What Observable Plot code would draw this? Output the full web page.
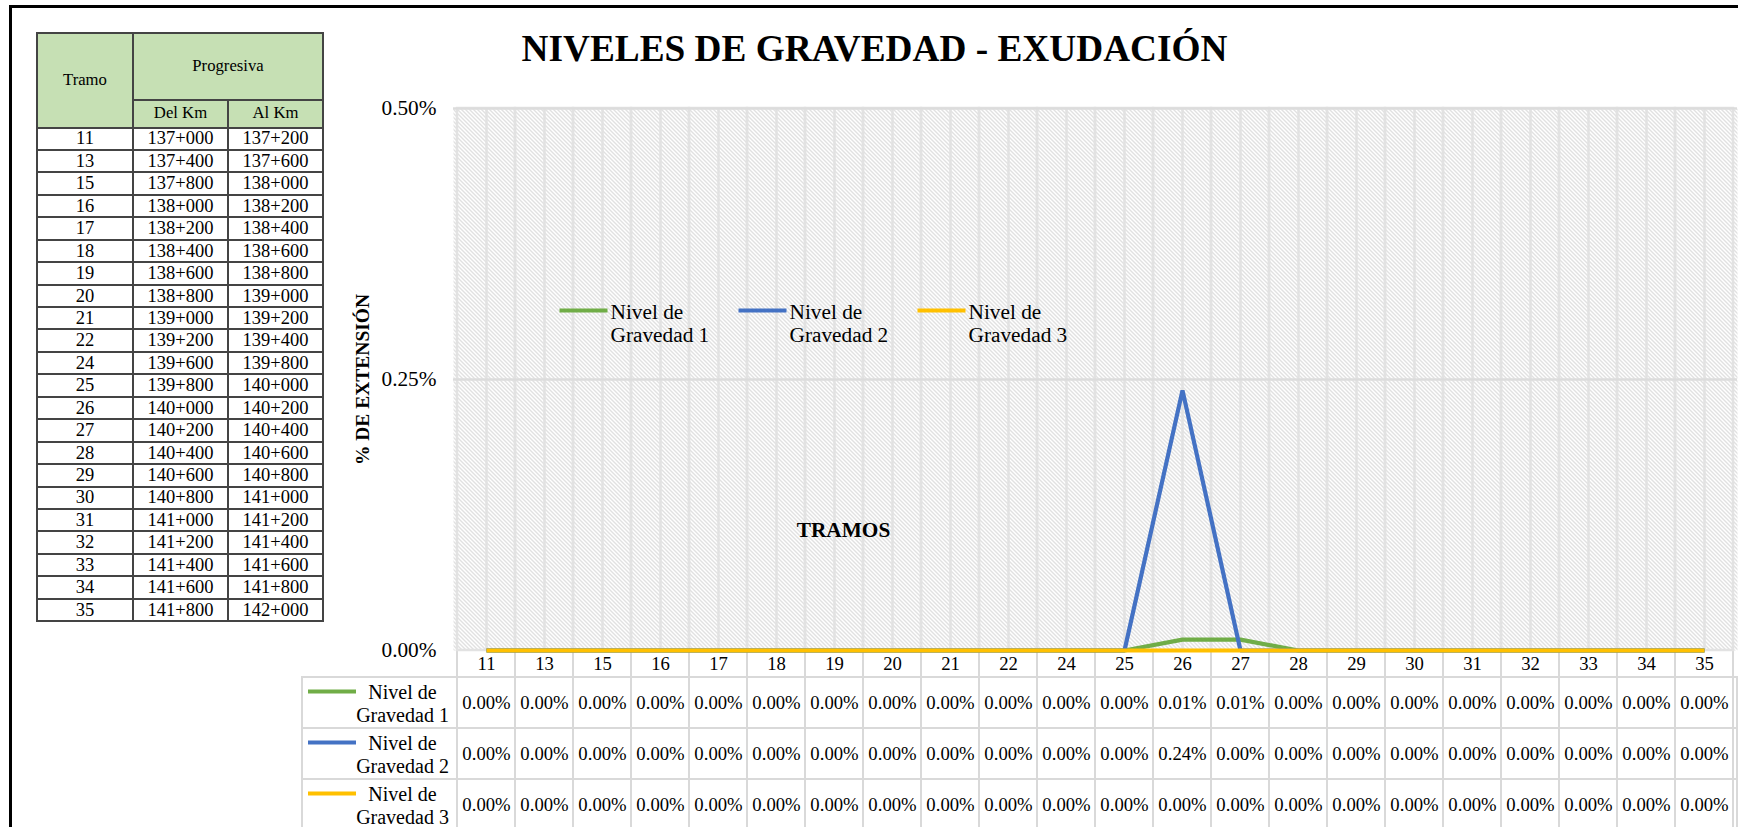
<!DOCTYPE html>
<html>
<head>
<meta charset="utf-8">
<script src="https://cdn.jsdelivr.net/npm/d3@7"></script>
<script src="https://cdn.jsdelivr.net/npm/@observablehq/plot@0.6"></script>
<style>
html,body{margin:0;padding:0;overflow:hidden;background:#fff;}
#root{position:relative;width:1738px;height:827px;overflow:hidden;background:#fff;font-family:"Liberation Serif","Times New Roman",serif;}
#root svg{position:absolute;left:0;background:transparent;max-width:none;overflow:visible;font-family:"Liberation Serif","Times New Roman",serif !important;}
#root svg text, #root svg tspan{font-family:"Liberation Serif","Times New Roman",serif !important;}
#frameBorder{position:absolute;left:9px;top:5px;width:1800px;height:900px;border-left:3px solid #000;border-top:3px solid #000;}
#tbl{position:absolute;left:36px;top:32px;border-collapse:collapse;table-layout:fixed;width:286px;font-family:"Liberation Serif","Times New Roman",serif;}
#tbl td,#tbl th{border:2px solid #444;padding:0;text-align:center;font-weight:normal;color:#000;line-height:1;font-family:"Liberation Serif","Times New Roman",serif;}
#tbl th{background:#c6e0b4;font-size:16.7px;}
#tbl td{font-size:18.5px;}
</style>
</head>
<body>
<div id="root">
  <div id="frameBorder"></div>
  <table id="tbl"></table>
</div>
<script>
// ---------- data ----------
const tramos = ["11","13","15","16","17","18","19","20","21","22","24","25","26","27","28","29","30","31","32","33","34","35"];
const delKm = ["137+000","137+400","137+800","138+000","138+200","138+400","138+600","138+800","139+000","139+200","139+600","139+800","140+000","140+200","140+400","140+600","140+800","141+000","141+200","141+400","141+600","141+800"];
const alKm  = ["137+200","137+600","138+000","138+200","138+400","138+600","138+800","139+000","139+200","139+400","139+800","140+000","140+200","140+400","140+600","140+800","141+000","141+200","141+400","141+600","141+800","142+000"];
const nivel1 = [0,0,0,0,0,0,0,0,0,0,0,0,0.01,0.01,0,0,0,0,0,0,0,0];
const nivel2 = [0,0,0,0,0,0,0,0,0,0,0,0,0.24,0,0,0,0,0,0,0,0,0];
const nivel3 = [0,0,0,0,0,0,0,0,0,0,0,0,0,0,0,0,0,0,0,0,0,0];
const series = ["Nivel de Gravedad 1","Nivel de Gravedad 2","Nivel de Gravedad 3"];
const colors = ["#70ad47","#4472c4","#ffc000"];
const yTicks = [0, 0.25, 0.5];
const title = "NIVELES DE GRAVEDAD - EXUDACIÓN";
const yLabel = "% DE EXTENSIÓN";
const xLabel = "TRAMOS";
const tableHead = ["Tramo","Progresiva","Del Km","Al Km"];

// ---------- left table ----------
(function(){
  let h = '<colgroup><col style="width:96px"><col style="width:95px"><col style="width:95px"></colgroup>';
  h += `<tr style="height:67px"><th rowspan="2">${tableHead[0]}</th><th colspan="2">${tableHead[1]}</th></tr>`;
  h += `<tr style="height:27.5px"><th>${tableHead[2]}</th><th>${tableHead[3]}</th></tr>`;
  tramos.forEach((t,i)=>{ h += `<tr style="height:22.45px"><td>${t}</td><td>${delKm[i]}</td><td>${alKm[i]}</td></tr>`; });
  document.getElementById("tbl").innerHTML = h;
})();

// ---------- chart ----------
const values = [nivel1, nivel2, nivel3];
const long = series.flatMap((s,i)=>tramos.map((t,j)=>({serie:s, tramo:t, value:values[i][j]})));
const fmt = v => v.toFixed(2) + "%";
const wrap = s => s.replace(" Gravedad", "\nGravedad");
const W = 1738;
const font = "Liberation Serif";
const swatch = {draw(ctx){ ctx.moveTo(-24,-2); ctx.lineTo(24,-2); ctx.lineTo(24,2); ctx.lineTo(-24,2); ctx.closePath(); }};
const color = {domain: series, range: colors};
const grid = "#e2e2e2";
const cellLine = "#d9d9d9";

const main = Plot.plot({
  width: W, height: 677,
  marginLeft: 453, marginRight: 1, marginTop: 108, marginBottom: 27,
  style: {fontFamily: font, fontSize: "21.3px", background: "transparent", color: "#000", overflow: "visible"},
  x: {type: "band", domain: tramos, padding: 0, axis: null},
  y: {domain: [0, 0.5], ticks: yTicks, tickFormat: fmt, tickSize: 0, tickPadding: 17, label: null},
  color,
  marks: [
    Plot.frame({fill: "url(#hatch)", stroke: "none"}),
    Plot.cell(tramos, {x: d => d, fill: "none", stroke: grid, strokeWidth: 2.5}),
    Plot.ruleX(tramos, {x: d => d, stroke: grid, strokeWidth: 2.5}),
    Plot.ruleY(yTicks.slice(1), {y: d => d, stroke: "#dcdcdc", strokeWidth: 2.5}),
    Plot.line(long, {x: "tramo", y: "value", z: "serie", stroke: "serie", strokeWidth: 4.2, strokeLinejoin: "miter", strokeLinecap: "butt"}),
    ...series.flatMap((s,i)=>[
      Plot.dot([s], {fill: d => d, stroke: "none", symbol: swatch, frameAnchor: "top-left", dx: 130 + 179*i, dy: 202}),
      Plot.text([s], {text: wrap, frameAnchor: "top-left", dx: 157 + 179*i, dy: 214.9, textAnchor: "start", lineAnchor: "middle", lineHeight: 1.094, fontSize: 21.3, fontFamily: font})
    ]),
    Plot.text([title], {frameAnchor: "top", dx: -221, dy: -48, textAnchor: "middle", lineAnchor: "bottom", fontSize: 37.3, fontWeight: "bold", fontFamily: font}),
    Plot.text([yLabel], {frameAnchor: "left", dx: -91, rotate: -90, textAnchor: "middle", fontSize: 19.5, fontWeight: "bold", fontFamily: font}),
    Plot.text([xLabel], {frameAnchor: "middle", dx: -252, dy: 151, textAnchor: "middle", fontSize: 21.3, fontWeight: "bold", fontFamily: font})
  ]
});
const defs = document.createElementNS("http://www.w3.org/2000/svg", "defs");
defs.innerHTML = '<pattern id="hatch" patternUnits="userSpaceOnUse" width="4" height="4"><rect width="4" height="4" fill="#fff"/><path d="M-1,-1L5,5M-1,3L1,5M3,-1L5,1" stroke="#c2c2c2" stroke-width="1"/></pattern>';
main.insertBefore(defs, main.firstChild);

const header = Plot.plot({
  width: W, height: 27,
  marginLeft: 453, marginRight: 1, marginTop: 0, marginBottom: 0,
  style: {fontFamily: font, background: "transparent", color: "#000", overflow: "visible"},
  x: {type: "band", domain: tramos, padding: 0, axis: null},
  marks: [
    Plot.cell(tramos, {x: d => d, fill: "none", stroke: cellLine, strokeWidth: 2}),
    Plot.text(tramos, {x: d => d, text: d => d, fontSize: 18.7, fontFamily: font})
  ]
});

const body = Plot.plot({
  width: W, height: 153,
  marginLeft: 302, marginRight: 1, marginTop: 0, marginBottom: 0,
  style: {fontFamily: font, background: "transparent", color: "#000", overflow: "visible"},
  x: {type: "band", domain: tramos, padding: 0, range: [453, 1737], axis: null},
  y: {type: "band", domain: series, padding: 0, axis: null},
  color,
  marks: [
    Plot.cell(series, {y: d => d, fill: "white", stroke: cellLine, strokeWidth: 2}),
    Plot.cell(long, {x: "tramo", y: "serie", fill: "none", stroke: cellLine, strokeWidth: 2}),
    Plot.text(long, {x: "tramo", y: "serie", text: d => fmt(d.value), fontSize: 18.7, fontFamily: font}),
    Plot.text(series, {y: d => d, text: wrap, frameAnchor: "left", dx: 100, textAnchor: "middle", lineHeight: 1.135, fontSize: 20, fontFamily: font}),
    Plot.dot(series, {y: d => d, fill: d => d, stroke: "none", symbol: swatch, frameAnchor: "left", dx: 29.5, dy: -11.5})
  ]
});

const root = document.getElementById("root");
header.style.top = "650px";
body.style.top = "677px";
main.style.top = "0px";
root.appendChild(header);
root.appendChild(body);
root.appendChild(main);
</script>
</body>
</html>
